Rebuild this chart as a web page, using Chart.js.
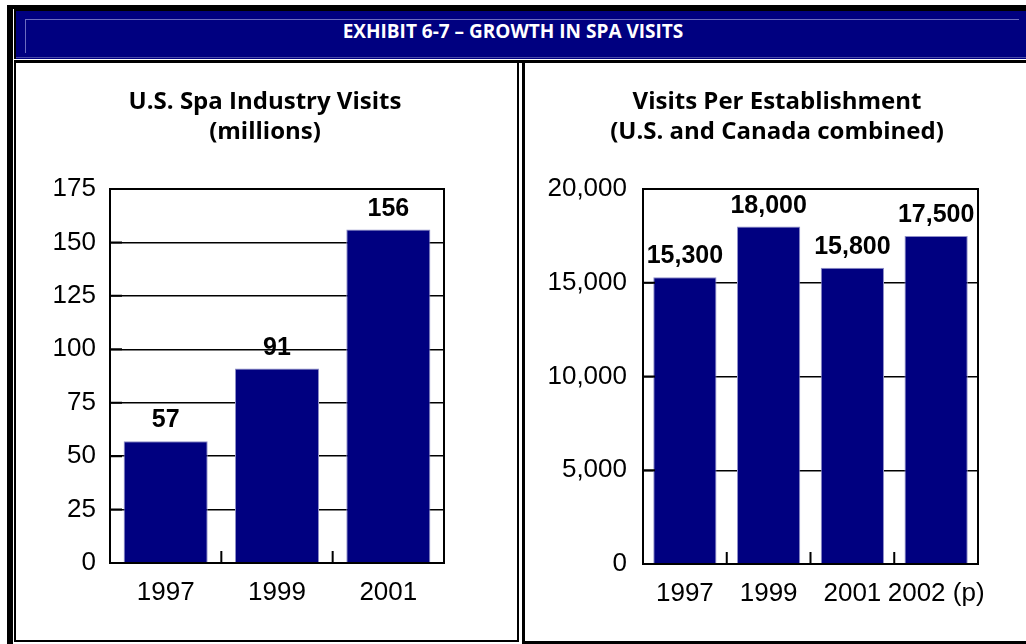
<!DOCTYPE html>
<html>
<head>
<meta charset="utf-8">
<title>Growth in Spa Visits</title>
<script src="https://cdn.jsdelivr.net/npm/chart.js@4.4.1/dist/chart.umd.min.js"></script>
<style>
    body { margin: 0; width: 1026px; height: 644px; background: #fff; position: relative; overflow: hidden; font-family: "Open Sans", sans-serif; }
    .blk { position: absolute; background: #000; }
    .header { position: absolute; left: 14px; top: 9px; width: 1020px; height: 50px; background: #000080; border-left: 2px solid #000; border-top: 2px solid #000; box-sizing: border-box; }
    .bevel-top { position: absolute; left: 25px; top: 19px; width: 994px; height: 1px; background: #6b6bbf; }
    .bevel-left { position: absolute; left: 25px; top: 19px; width: 1px; height: 34px; background: #6b6bbf; }
    .bevel-bottom { position: absolute; left: 16px; top: 57px; width: 1010px; height: 1px; background: #4a4aa8; }
    .header-text { position: absolute; left: 0; top: 21px; width: 1026px; text-align: center; color: #fff; font-weight: 700; font-size: 19px; line-height: 20px; }
    .panel { position: absolute; border: 2px solid #000; box-sizing: border-box; }
    canvas { position: absolute; }
</style>
</head>
<body>
<div class="blk" style="left:7px;top:5px;width:1019px;height:4px"></div>
<div class="blk" style="left:7px;top:5px;width:6px;height:639px"></div>
<div class="header"></div>
<div class="bevel-top"></div>
<div class="bevel-left"></div>
<div class="bevel-bottom"></div>
<div class="header-text">EXHIBIT 6-7 – GROWTH IN SPA VISITS</div>
<div class="blk" style="left:14px;top:60px;width:1012px;height:3px"></div>
<div class="panel" style="left:14px;top:60px;width:505px;height:582px;border-top-width:3px"></div>
<div class="panel" style="left:522px;top:60px;width:510px;height:584px;border-width:3px"></div>

<canvas id="visitsChart" width="501" height="574" style="left:16px;top:66px"></canvas>
<canvas id="perSpaChart" width="501" height="574" style="left:525px;top:66px"></canvas>

<script>
// U.S. spa industry visits, millions
const visitYears = ['1997', '1999', '2001'];
const visitValues = [57, 91, 156];
const visitTicks = [0, 25, 50, 75, 100, 125, 150, 175];

// Visits per establishment, U.S. and Canada combined
const perSpaYears = ['1997', '1999', '2001', '2002 (p)'];
const perSpaValues = [15300, 18000, 15800, 17500];
const perSpaTicks = [0, 5000, 10000, 15000, 20000];

const NAVY = '#000080';
const tickFont = { family: 'Arial, "Liberation Sans", sans-serif', size: 26 };

// Box around the plot, inner tick marks and value labels over the bars
const plotFrame = {
    id: 'plotFrame',
    afterDatasetsDraw(chart) {
        const ctx = chart.ctx;
        const { left, right, top, bottom } = chart.chartArea;
        const xScale = chart.scales.x;
        const yScale = chart.scales.y;
        ctx.save();
        ctx.strokeStyle = '#000';
        ctx.lineWidth = 2;
        ctx.strokeRect(left, top, right - left, bottom - top);

        ctx.beginPath();
        // y ticks pointing into the plot
        yScale.ticks.forEach(t => {
            const y = yScale.getPixelForValue(t.value);
            ctx.moveTo(left, y);
            ctx.lineTo(left + 12, y);
        });
        // x ticks between categories
        for (let i = 1; i < xScale.ticks.length; i++) {
            const x = (xScale.getPixelForValue(i - 1) + xScale.getPixelForValue(i)) / 2;
            ctx.moveTo(x, bottom);
            ctx.lineTo(x, bottom - 12);
        }
        ctx.stroke();

        ctx.fillStyle = '#000';
        ctx.font = 'bold 25px Arial, "Liberation Sans", sans-serif';
        ctx.textAlign = 'center';
        ctx.textBaseline = 'alphabetic';
        const data = chart.data.datasets[0].data;
        chart.getDatasetMeta(0).data.forEach((bar, i) => {
            ctx.fillText(data[i].toLocaleString('en-US'), bar.x, bar.y - 14);
        });
        ctx.restore();
    }
};

function makeChart(id, titleLines, labels, values, ticks, opts) {
    return new Chart(document.getElementById(id), {
        type: 'bar',
        data: {
            labels: labels,
            datasets: [{
                data: values,
                backgroundColor: NAVY,
                borderColor: '#8f8fc8',
                borderWidth: 1,
                barPercentage: 0.755,
                categoryPercentage: 1
            }]
        },
        options: {
            responsive: false,
            animation: false,
            layout: { padding: { left: 20, right: opts.padRight, top: 0, bottom: 0 } },
            plugins: {
                legend: { display: false },
                tooltip: { enabled: false },
                title: {
                    display: true,
                    text: titleLines,
                    color: '#000',
                    font: { family: '"Open Sans", sans-serif', size: 24, weight: 'bold', lineHeight: 30 / 24 },
                    padding: { top: 21, bottom: 42 }
                }
            },
            scales: {
                x: {
                    grid: { display: false },
                    border: { display: false },
                    ticks: { color: '#000', font: tickFont, padding: 6, maxRotation: 0, autoSkip: false },
                    afterFit(scale) { scale.height = opts.xHeight; }
                },
                y: {
                    min: ticks[0],
                    max: ticks[ticks.length - 1],
                    afterBuildTicks(scale) { scale.ticks = ticks.map(v => ({ value: v })); },
                    grid: { color: '#000', lineWidth: 1.5, drawTicks: false },
                    border: { display: false },
                    ticks: {
                        color: '#000',
                        font: tickFont,
                        padding: opts.yPad,
                        callback: v => v.toLocaleString('en-US')
                    },
                    afterFit(scale) { scale.width = opts.yWidth; }
                },
                // empty right-hand spacer so the title centres over the panel
                spacer: {
                    type: 'linear',
                    position: 'right',
                    grid: { display: false },
                    border: { display: false },
                    ticks: { display: false },
                    afterFit(scale) { scale.width = opts.spacer; }
                }
            }
        },
        plugins: [plotFrame]
    });
}

makeChart('visitsChart', ['U.S. Spa Industry Visits', '(millions)'],
    visitYears, visitValues, visitTicks,
    { padRight: 23, spacer: 50, yWidth: 74, xHeight: 77, yPad: 14 });

makeChart('perSpaChart', ['Visits Per Establishment', '(U.S. and Canada combined)'],
    perSpaYears, perSpaValues, perSpaTicks,
    { padRight: 17, spacer: 31, yWidth: 98, xHeight: 76, yPad: 16 });
</script>
</body>
</html>
